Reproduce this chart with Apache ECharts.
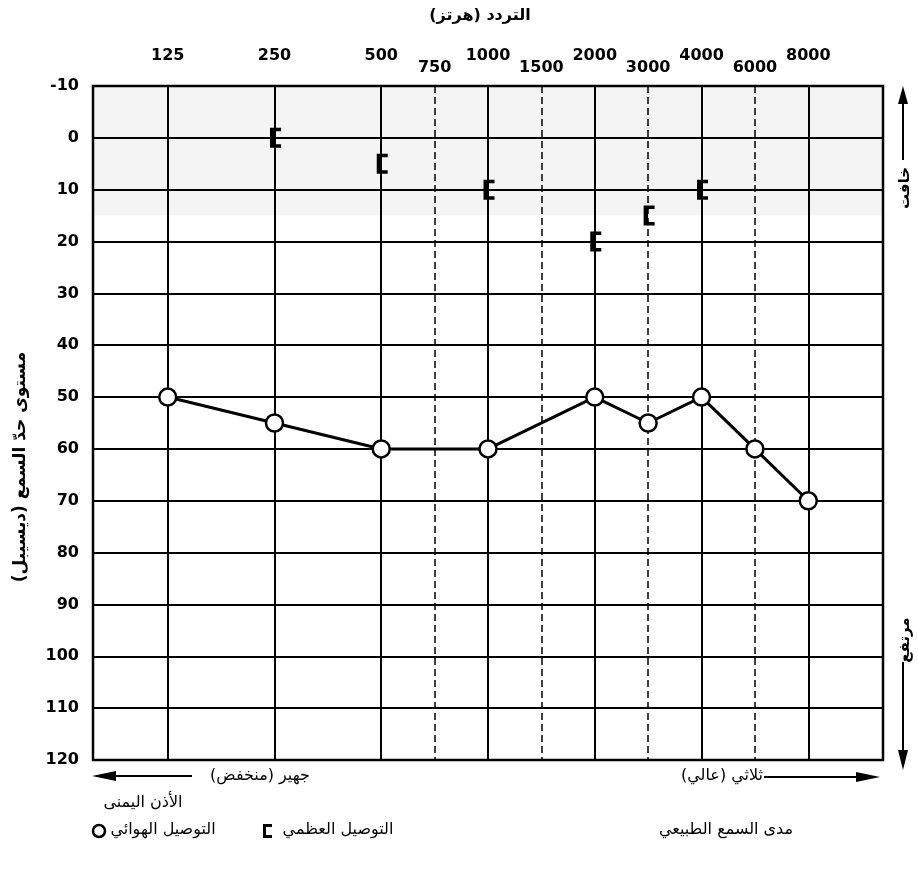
<!DOCTYPE html>
<html>
<head>
<meta charset="utf-8">
<script src="https://cdn.jsdelivr.net/npm/echarts@6/dist/echarts.min.js"></script>
<style>
  html, body { margin: 0; padding: 0; background: #fff; }
  #chart { width: 918px; height: 882px; }
</style>
</head>
<body>
<div id="chart"></div>
<script>
// Audiogram: right ear, air and bone conduction thresholds
const octaveFreqs = [125, 250, 500, 1000, 2000, 4000, 8000];
const midFreqs = [750, 1500, 3000, 6000];
const dbTicks = [-10, 0, 10, 20, 30, 40, 50, 60, 70, 80, 90, 100, 110, 120];

const airFreqs = [125, 250, 500, 1000, 2000, 3000, 4000, 6000, 8000];
const airDb = [50, 55, 60, 60, 50, 55, 50, 60, 70];

const boneFreqs = [250, 500, 1000, 2000, 3000, 4000];
const boneDb = [0, 5, 10, 20, 15, 10];

const normalRange = [-10, 15];

// Octaves are evenly spaced; inter-octave frequencies sit half way between.
const freqPos = f => Math.round(2 * Math.log2(f / 125)) / 2;

const INK = '#000';
const NUM_FONT = 'DejaVu Sans';
const AR_FONT = 'DejaVu Sans';

const chart = echarts.init(document.getElementById('chart'), null, { renderer: 'canvas' });

const bracketPath = 'path://M0,0H10V3.5H4V16.5H10V20H0Z';

function arrowHead(x, y, dir, len, half) {
  // dir: 'up' | 'down' | 'left' | 'right'; (x, y) is the tip
  let pts;
  if (dir === 'up') pts = [[x, y], [x - half, y + len], [x + half, y + len]];
  if (dir === 'down') pts = [[x, y], [x - half, y - len], [x + half, y - len]];
  if (dir === 'left') pts = [[x, y], [x + len, y - half], [x + len, y + half]];
  if (dir === 'right') pts = [[x, y], [x - len, y - half], [x - len, y + half]];
  return { type: 'polygon', shape: { points: pts }, style: { fill: INK }, silent: true };
}

function line(x1, y1, x2, y2, w) {
  return { type: 'line', shape: { x1, y1, x2, y2 }, style: { stroke: INK, lineWidth: w || 2 }, silent: true };
}

function arText(str, x, y, opts) {
  return Object.assign({
    type: 'text',
    x, y,
    style: Object.assign({
      text: str,
      fill: INK,
      font: '16px ' + AR_FONT,
      align: 'center',
      verticalAlign: 'middle'
    }, (opts && opts.style) || {})
  }, (opts && opts.el) || {});
}

const xAxisBase = {
  type: 'value',
  position: 'top',
  min: -0.7,
  max: 6.7,
  axisLine: { show: false },
  axisTick: { show: false },
  splitLine: { show: false }
};

const numLabel = {
  color: INK,
  fontFamily: NUM_FONT,
  fontWeight: 'bold',
  fontSize: 16
};

const option = {
  backgroundColor: '#fff',
  animation: false,
  grid: {
    left: 93, right: 35, top: 86, bottom: 122,
    show: true,
    borderColor: INK,
    borderWidth: 2.5,
    backgroundColor: 'transparent'
  },
  xAxis: [
    Object.assign({}, xAxisBase, {
      axisLabel: Object.assign({
        customValues: octaveFreqs.map(freqPos),
        formatter: v => {
          const f = octaveFreqs.find(q => Math.abs(freqPos(q) - v) < 1e-6);
          return f ? String(f) : '';
        },
        margin: 22
      }, numLabel)
    }),
    Object.assign({}, xAxisBase, {
      axisLabel: Object.assign({
        customValues: midFreqs.map(freqPos),
        formatter: v => {
          const f = midFreqs.find(q => Math.abs(freqPos(q) - v) < 1e-6);
          return f ? String(f) : '';
        },
        margin: 10
      }, numLabel)
    })
  ],
  yAxis: {
    type: 'value',
    inverse: true,
    min: dbTicks[0],
    max: dbTicks[dbTicks.length - 1],
    interval: 10,
    axisLine: { show: false },
    axisTick: { show: false },
    axisLabel: Object.assign({ margin: 14 }, numLabel),
    splitLine: { show: true, lineStyle: { color: INK, width: 2 } }
  },
  series: [
    {
      // frequency grid lines and the normal hearing band
      type: 'line',
      xAxisIndex: 0,
      data: [],
      silent: true,
      markArea: {
        silent: true,
        itemStyle: { color: 'rgba(0,0,0,0.045)' },
        data: [[{ yAxis: normalRange[0] }, { yAxis: normalRange[1] }]]
      },
      markLine: {
        silent: true,
        symbol: ['none', 'none'],
        label: { show: false },
        data: octaveFreqs.map(f => ({
          xAxis: freqPos(f),
          lineStyle: { color: INK, width: 2, type: 'solid' }
        })).concat(midFreqs.map(f => ({
          xAxis: freqPos(f),
          lineStyle: { color: INK, width: 1.5, type: [7, 4] }
        })))
      }
    },
    {
      name: 'التوصيل الهوائي',
      type: 'line',
      xAxisIndex: 0,
      z: 5,
      data: airFreqs.map((f, i) => [freqPos(f), airDb[i]]),
      symbol: 'circle',
      symbolSize: 17,
      lineStyle: { color: INK, width: 3 },
      itemStyle: { color: '#fff', borderColor: INK, borderWidth: 2.5 }
    },
    {
      name: 'التوصيل العظمي',
      type: 'scatter',
      xAxisIndex: 0,
      z: 6,
      data: boneFreqs.map((f, i) => [freqPos(f), boneDb[i]]),
      symbol: bracketPath,
      symbolSize: [11, 20],
      symbolOffset: [1, 0],
      itemStyle: { color: INK, opacity: 1 }
    }
  ],
  graphic: [
    // top title
    arText('التردد (هرتز)', 480, 16, { style: { font: 'bold 16px ' + AR_FONT } }),
    // vertical axis title
    arText('مستوى حدّ السمع (ديسيبل)', 21, 467, {
      style: { font: 'bold 17px ' + AR_FONT },
      el: { rotation: Math.PI / 2 }
    }),
    // right side: faint (up) / loud (down)
    line(903, 100, 903, 160, 2),
    arrowHead(903, 86, 'up', 18, 5),
    arText('خافت', 905, 188, { style: { font: 'bold 15px ' + AR_FONT }, el: { rotation: Math.PI / 2 } }),
    arText('مرتفع', 905, 640, { style: { font: 'bold 15px ' + AR_FONT }, el: { rotation: Math.PI / 2 } }),
    line(903, 662, 903, 752, 2),
    arrowHead(903, 770, 'down', 20, 5),
    // bottom: low / high pitch
    arrowHead(92, 776, 'left', 24, 5),
    line(110, 776, 192, 776, 2),
    arText('جهير (منخفض)', 260, 776),
    arText('ثلاثي (عالي)', 722, 776),
    line(764, 777, 860, 777, 2),
    arrowHead(880, 777, 'right', 24, 5),
    // key
    arText('الأذن اليمنى', 143, 803),
    {
      type: 'circle',
      shape: { cx: 99, cy: 831, r: 6 },
      style: { fill: '#fff', stroke: INK, lineWidth: 2.5 },
      silent: true
    },
    arText('التوصيل الهوائي', 163, 830),
    {
      type: 'polygon',
      shape: { points: [[263, 824], [272, 824], [272, 827], [266, 827], [266, 835], [272, 835], [272, 838], [263, 838]] },
      style: { fill: INK },
      silent: true
    },
    arText('التوصيل العظمي', 338, 830),
    arText('مدى السمع الطبيعي', 726, 830)
  ]
};

chart.setOption(option);
</script>
</body>
</html>
